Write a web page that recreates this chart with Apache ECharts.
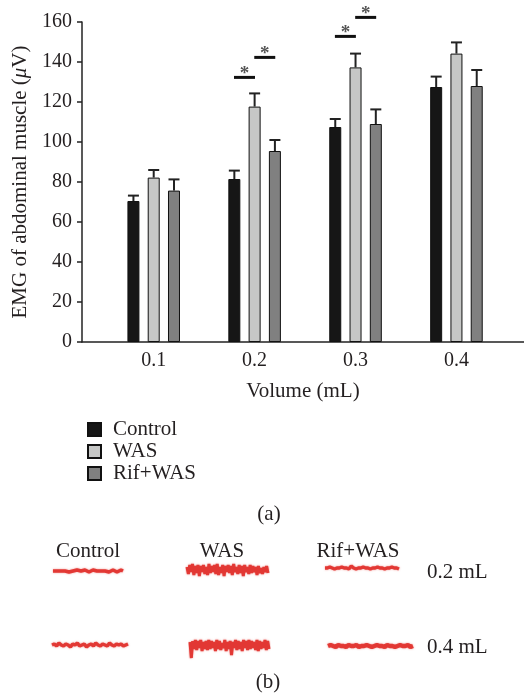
<!DOCTYPE html>
<html>
<head>
<meta charset="utf-8">
<script src="https://cdn.jsdelivr.net/npm/echarts@6/dist/echarts.min.js"></script>
<style>html,body{margin:0;padding:0;background:#fff}#c{width:524px;height:699px}</style>
</head>
<body>
<div id="c"></div>
<script>
// ---- data (panel a) ----
const volumes = [0.1, 0.2, 0.3, 0.4];
const seriesNames = ['Control', 'WAS', 'Rif+WAS'];
const controlMean = [70.5, 81.5, 107.5, 127.5];
const controlErr  = [2.7, 4.2, 4.0, 5.2];
const wasMean     = [82.2, 117.7, 137.3, 144.2];
const wasErr      = [3.8, 6.6, 6.9, 5.6];
const rifMean     = [75.7, 95.5, 109.0, 128.0];
const rifErr      = [5.6, 5.5, 7.3, 8.0];
const yTicks = [0, 20, 40, 60, 80, 100, 120, 140, 160];
// significance brackets: [volume, pair index (0: Control-WAS, 1: WAS-Rif+WAS), height]
const sigVolume = [0.2, 0.2, 0.3, 0.3];
const sigPair   = [0, 1, 0, 1];
const sigHeight = [132.3, 142.3, 152.8, 162.3];

// ---- data (panel b): EMG traces, deflection ----
const traceCtl02 = [0,1,0,-1,0,1,0,0,-1,1,0,0,1,-1,0,0,1,0,-1,0,1,0,0,-1,0,1,0,0,-1,0,1,0,-1,0,1,0];
const traceWas02 = [3,-4,5,-2,6,-5,4,-3,5,-6,4,-2,5,-4,3,-5,6,-3,4,-2,5,-4,6,-5,3,-3,5,-6,4,-2,5,-3,4,-5,6,-2,3,-4,5,-3,4,-6,5,-2,3,-4,5,-3,4,-2,3,-5,4,-3,2,-4,3,-2,4,-3];
const traceRif02 = [0,0,1,0,-1,0,0,1,0,0,-1,2,0,-1,0,0,1,0,0,-1,0,0,1,0,0,-1,0,0,1,0,0,-1];
const traceCtl04 = [0,1,-1,2,0,-1,1,0,-2,1,0,2,-1,0,1,-2,0,1,-1,2,0,-1,1,0,-1,2,0,-1,1,0,1,-1,0,1];
const traceWas04 = [4,-12,5,-3,6,-4,5,-2,6,-5,4,-3,5,-4,6,-3,5,-2,4,-5,6,-3,5,-4,3,-2,6,-5,4,-3,5,-9,4,-2,6,-4,5,-3,4,-5,6,-2,5,-4,6,-3,5,-2,4,-4,6,-5,5,-3,4,-2,6,-4,5,-3];
const traceRif04 = [0,1,0,-1,1,0,0,-1,1,0,0,1,-1,0,0,1,0,-1,0,1,0,0,-1,1,0,0,-1,0,1,0,0,1,-1,0];

// ---- style constants ----
const SERIF = '"Liberation Serif","DejaVu Serif",serif';
const TXT = '#231f20';
const colors = ['#161616', '#c6c7c6', '#808080'];
const BAR_W = 12;
const BAR_GAP = 0.69;
const STEP = BAR_W * (1 + BAR_GAP);
const means = [controlMean, wasMean, rifMean];
const errs = [controlErr, wasErr, rifErr];

const chart = echarts.init(document.getElementById('c'), null, {renderer: 'canvas'});

const barSeries = seriesNames.map((n, i) => ({
  name: n, type: 'bar', xAxisIndex: 0, yAxisIndex: 0,
  barWidth: BAR_W, barGap: (BAR_GAP * 100) + '%',
  itemStyle: {color: colors[i], borderColor: '#111', borderWidth: 1},
  data: volumes.map((v, k) => [v, means[i][k]]),
  silent: true, z: 2
}));

const errSeries = seriesNames.map((n, i) => ({
  type: 'custom', xAxisIndex: 0, yAxisIndex: 0, z: 3, silent: true,
  data: volumes.map((v, k) => [v, means[i][k], means[i][k] + errs[i][k]]),
  renderItem: function (params, api) {
    const off = (i - 1) * STEP;
    const p0 = api.coord([api.value(0), api.value(1)]);
    const p1 = api.coord([api.value(0), api.value(2)]);
    const x = p0[0] + off;
    const st = {stroke: '#222', lineWidth: 2};
    return {type: 'group', children: [
      {type: 'line', shape: {x1: x, y1: p0[1], x2: x, y2: p1[1]}, style: st},
      {type: 'line', shape: {x1: x - 5.5, y1: p1[1], x2: x + 5.5, y2: p1[1]}, style: st}
    ]};
  }
}));

const sigSeries = {
  type: 'custom', xAxisIndex: 0, yAxisIndex: 0, z: 4, silent: true, clip: false,
  data: sigVolume.map((v, k) => [v, sigHeight[k], sigPair[k]]),
  renderItem: function (params, api) {
    const p = api.coord([api.value(0), api.value(1)]);
    const cx = p[0] + (api.value(2) - 0.5) * STEP;
    return {type: 'group', children: [
      {type: 'line', shape: {x1: cx - 10.5, y1: p[1], x2: cx + 10.5, y2: p[1]},
        style: {stroke: '#111', lineWidth: 3}},
      {type: 'text', style: {text: '*', x: cx, y: p[1] - 3, textAlign: 'center',
        textVerticalAlign: 'middle', font: 'bold 19px ' + SERIF, fill: '#555'}}
    ]};
  }
};

// trace grids
const traces = [
  {d: traceCtl02, x0: 53, x1: 123, yc: 571, w: 3.5},
  {d: traceWas02, x0: 187, x1: 268, yc: 570, w: 3},
  {d: traceRif02, x0: 325, x1: 399, yc: 568, w: 3.5},
  {d: traceCtl04, x0: 52, x1: 128, yc: 645, w: 3.5},
  {d: traceWas04, x0: 190, x1: 269, yc: 646, w: 3},
  {d: traceRif04, x0: 328, x1: 413, yc: 646, w: 4.5}
];

const grids = [{left: 82, right: 0, top: 22, bottom: 357, containLabel: false}];
const xAxes = [{
  type: 'value', gridIndex: 0, min: 0.02894, max: 0.46694,
  name: 'Volume (mL)', nameLocation: 'middle', nameGap: 39,
  nameTextStyle: {fontFamily: SERIF, fontSize: 21, color: TXT},
  axisLine: {show: true, lineStyle: {color: '#222', width: 1.5}},
  axisTick: {show: false},
  splitLine: {show: false},
  axisLabel: {customValues: volumes, formatter: v => v.toFixed(1), margin: 9,
    fontFamily: SERIF, fontSize: 20, color: TXT}
}];
const yAxes = [{
  type: 'value', gridIndex: 0, min: 0, max: 160, interval: 20,
  name: 'EMG of abdominal muscle ({i|μ}V)', nameLocation: 'middle', nameGap: 51,
  nameTextStyle: {fontFamily: SERIF, fontSize: 21, color: TXT,
    rich: {i: {fontFamily: SERIF, fontSize: 21, fontStyle: 'italic', color: TXT}}},
  axisLine: {show: true, lineStyle: {color: '#222', width: 1.5}},
  axisTick: {show: true, length: 5, lineStyle: {color: '#222', width: 1.5}},
  splitLine: {show: false},
  axisLabel: {customValues: yTicks, margin: 10, fontFamily: SERIF, fontSize: 20, color: TXT}
}];
const traceSeries = [];
traces.forEach((t, i) => {
  const gi = i + 1;
  grids.push({left: t.x0, width: t.x1 - t.x0, top: t.yc - 15, height: 30});
  xAxes.push({type: 'value', gridIndex: gi, min: 0, max: t.d.length - 1, show: false});
  yAxes.push({type: 'value', gridIndex: gi, min: -15, max: 15, show: false});
  traceSeries.push({
    type: 'line', xAxisIndex: gi, yAxisIndex: gi, showSymbol: false, silent: true,
    data: t.d.map((v, k) => [k, v]),
    lineStyle: {color: '#e1302b', width: t.w, opacity: 0.92, shadowBlur: 2, shadowColor: 'rgba(230,50,45,0.6)'}
  });
});

const txt = (text, x, y, align) => ({type: 'text', x: x, y: y,
  style: {text: text, textAlign: align || 'center', textVerticalAlign: 'middle',
    font: '21px ' + SERIF, fill: TXT}});

chart.setOption({
  animation: false,
  backgroundColor: '#fff',
  grid: grids,
  xAxis: xAxes,
  yAxis: yAxes,
  legend: {
    data: seriesNames, orient: 'vertical', left: 82, top: 414,
    itemWidth: 13, itemHeight: 13, itemGap: 1, icon: 'rect',
    textStyle: {fontFamily: SERIF, fontSize: 21, color: TXT, padding: [0, 0, 0, 7]}
  },
  graphic: [
    txt('(a)', 269, 514),
    txt('Control', 88, 551),
    txt('WAS', 222, 551),
    txt('Rif+WAS', 358, 551),
    txt('0.2 mL', 427, 572, 'left'),
    txt('0.4 mL', 427, 647, 'left'),
    txt('(b)', 268, 682)
  ],
  series: [...barSeries, ...errSeries, sigSeries, ...traceSeries]
});
</script>
</body>
</html>
